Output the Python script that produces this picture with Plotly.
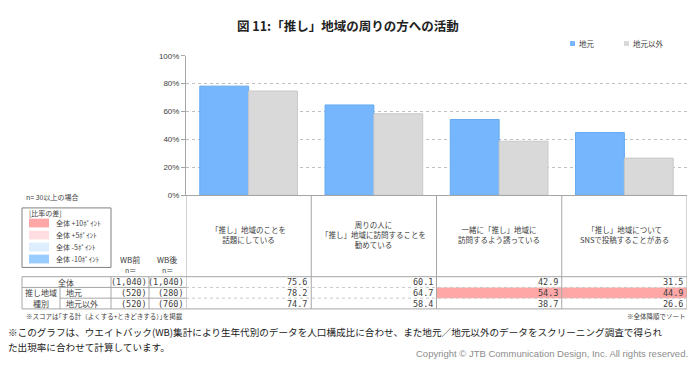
import plotly.graph_objects as go

W, H = 700, 370

# ---------------- data ----------------
categories = [
    "「推し」地域のことを<br>話題にしている",
    "周りの人に<br>「推し」地域に訪問することを<br>勧めている",
    "一緒に「推し」地域に<br>訪問するよう誘っている",
    "「推し」地域について<br>SNSで投稿することがある",
]
series_names = ["地元", "地元以外"]
zentai = [75.6, 60.1, 42.9, 31.5]
jimoto = [78.2, 64.7, 54.3, 44.9]
jimoto_igai = [74.7, 58.4, 38.7, 26.6]
row_labels = ["全体", "地元", "地元以外"]
n_before = ["(1,040)", "(520)", "(520)"]
n_after = ["(1,040)", "(280)", "(760)"]
diff_labels = ["全体 +10ﾎﾟｲﾝﾄ", "全体 +5ﾎﾟｲﾝﾄ", "全体 -5ﾎﾟｲﾝﾄ", "全体 -10ﾎﾟｲﾝﾄ"]
ytick_vals = [0, 20, 40, 60, 80, 100]
ytick_text = ["0%", "20%", "40%", "60%", "80%", "100%"]

# ---------------- styles ----------------
JP = "Noto Sans CJK JP"
TXT = "#404040"
BLUE = "#75B6FC"
GRAY = "#D9D9D9"
LINE = "#A6A6A6"
diff_colors = ["#FFA7A7", "#FFDDE0", "#DDEEFF", "#99CCFF"]
series_colors = [BLUE, GRAY]


def px(x):
    return x / W


def py(y):
    return 1 - y / H


X0, X1 = 186, 687      # plot area left/right px
Y0, Y100 = 196, 53     # 0% and 100% px

fig = go.Figure()
idx = list(range(len(categories)))
fig.add_trace(go.Bar(x=idx, y=jimoto, name=series_names[0], showlegend=False,
                     marker=dict(color=BLUE, line=dict(color="#66AAF0", width=1))))
fig.add_trace(go.Bar(x=idx, y=jimoto_igai, name=series_names[1], showlegend=False,
                     marker=dict(color=GRAY, line=dict(color="#C8C8C8", width=1))))

shapes = []
ann = []

HEAD_BOT = 279.5
ROWS = [279.5, 290.5, 301.5, 312.5]


def vline_x(xv, ya, yb, color=LINE, dash="solid", width=1):
    shapes.append(dict(type="line", xref="x", yref="paper", x0=xv, x1=xv, y0=py(ya), y1=py(yb),
                       line=dict(color=color, width=width, dash=dash)))


def hline_p(xa, xb, y, color=LINE, dash="solid", width=1):
    shapes.append(dict(type="line", xref="paper", yref="paper", x0=px(xa), x1=px(xb), y0=py(y), y1=py(y),
                       line=dict(color=color, width=width, dash=dash)))


def vline_p(x, ya, yb, color=LINE, width=1):
    shapes.append(dict(type="line", xref="paper", yref="paper", x0=px(x), x1=px(x), y0=py(ya), y1=py(yb),
                       line=dict(color=color, width=width)))


def text(x, y, s, size=8, xanchor="center", color=TXT, family=JP, xref="paper", bold=False):
    ann.append(dict(x=(x if xref == "x" else px(x)), y=py(y), xref=xref, yref="paper",
                    text=(f"<b>{s}</b>" if bold else s),
                    showarrow=False, xanchor=xanchor, yanchor="middle",
                    font=dict(size=size, color=color, family=family)))


# highlight cells (difference vs 全体)
rows_vals = [zentai, jimoto, jimoto_igai]
for r in (1, 2):
    for c in idx:
        d = rows_vals[r][c] - zentai[c]
        col = None
        if d >= 10:
            col = diff_colors[0]
        elif d >= 5:
            col = diff_colors[1]
        elif d <= -10:
            col = diff_colors[3]
        elif d <= -5:
            col = diff_colors[2]
        if col:
            shapes.append(dict(type="rect", xref="x", yref="paper", x0=c - 0.5, x1=c + 0.5,
                               y0=py(ROWS[r + 1]), y1=py(ROWS[r]), fillcolor=col, line=dict(width=0),
                               layer="below"))

for k in range(len(categories) + 1):
    vline_x(k - 0.5, Y0, ROWS[-1])
hline_p(22, X1, HEAD_BOT)
hline_p(60, X0, ROWS[2])
hline_p(X0, X1, ROWS[1], color="#C8C8C8", dash="dot")
hline_p(X0, X1, ROWS[2], color="#C8C8C8", dash="dot")
hline_p(22, X0, ROWS[1])
hline_p(22, X1, ROWS[3])
vline_p(22, ROWS[0], ROWS[3])
vline_p(60, ROWS[1], ROWS[3])
vline_p(111, ROWS[0], ROWS[3])
vline_p(149, ROWS[0], ROWS[3])

for c, lab in enumerate(categories):
    text(c, 236, lab, size=7.5, xref="x")

for r in range(3):
    ym = (ROWS[r] + ROWS[r + 1]) / 2
    for c in idx:
        ann.append(dict(x=c + 0.5, y=py(ym), xref="x", yref="paper", text=f"{rows_vals[r][c]:.1f}",
                        showarrow=False, xanchor="right", xshift=-2, yanchor="middle",
                        font=dict(size=8.5, color=TXT, family="DejaVu Sans Mono")))

text(66, (ROWS[0] + ROWS[1]) / 2, row_labels[0], size=8)
text(41, (ROWS[1] + ROWS[2]) / 2, "推し地域", size=8)
text(41, (ROWS[2] + ROWS[3]) / 2, "種別", size=8)
text(64, (ROWS[1] + ROWS[2]) / 2, row_labels[1], size=8, xanchor="left")
text(64, (ROWS[2] + ROWS[3]) / 2, row_labels[2], size=8, xanchor="left")
for r in range(3):
    ym = (ROWS[r] + ROWS[r + 1]) / 2
    text(149, ym, n_before[r], size=8.5, xanchor="right", family="DejaVu Sans Mono")
    text(186, ym, n_after[r], size=8.5, xanchor="right", family="DejaVu Sans Mono")
text(130, 262, "WB前", size=8)
text(167, 262, "WB後", size=8)
text(130, 272.5, "n＝", size=7)
text(167, 272.5, "n＝", size=7)

# diff legend box
text(24, 198, "n= 30以上の場合", size=7, xanchor="left")
shapes.append(dict(type="rect", xref="paper", yref="paper", x0=px(22), x1=px(111), y0=py(270), y1=py(209),
                   line=dict(color="#808080", width=1), fillcolor="rgba(0,0,0,0)"))
text(27, 214.5, "[比率の差]", size=7, xanchor="left")
for i, (lab, col) in enumerate(zip(diff_labels, diff_colors)):
    yc = 224.5 + i * 12.3
    shapes.append(dict(type="rect", xref="paper", yref="paper", x0=px(29), x1=px(49), y0=py(yc + 4.5),
                       y1=py(yc - 4.5), fillcolor=col, line=dict(width=0)))
    text(54, yc, lab, size=7, xanchor="left")

# series legend (top right)
leg_x = [570, 624]
for name, col, lx in zip(series_names, series_colors, leg_x):
    shapes.append(dict(type="rect", xref="paper", yref="paper", x0=px(lx), x1=px(lx + 5), y0=py(43),
                       y1=py(38), fillcolor=col, line=dict(width=0)))
    text(lx + 7, 40.5, name, size=7.5, xanchor="left")

# title and notes
text(348, 22, "図 11:「推し」地域の周りの方への活動", size=12.5, bold=True, color="#222222")
text(24, 320, "※スコアは｢する計（よくする+ときどきする）｣を掲載", size=6.5, xanchor="left")
text(688, 320, "※全体降順でソート", size=6.5, xanchor="right")
text(6, 336, "※このグラフは、ウエイトバック(WB)集計により生年代別のデータを人口構成比に合わせ、また地元／地元以外のデータをスクリーニング調査で得られ",
     size=9.6, xanchor="left", color="#222222")
text(6, 352, "た出現率に合わせて計算しています。", size=9.6, xanchor="left", color="#222222")
text(690, 358, "Copyright © JTB Communication Design, Inc. All rights reserved.", size=9.5, xanchor="right",
     color="#8C8C8C", family="Liberation Sans Narrow, Liberation Sans, Arial")

fig.update_layout(
    width=W, height=H,
    margin=dict(l=0, r=0, t=0, b=0),
    paper_bgcolor="white", plot_bgcolor="white",
    barmode="group", bargap=0.22, bargroupgap=0,
    font=dict(family=JP, color=TXT, size=8),
    showlegend=False,
    xaxis=dict(domain=[px(X0), px(X1)], range=[-0.5, len(categories) - 0.5], showticklabels=False,
               showline=True, linecolor=LINE, linewidth=1, showgrid=False, zeroline=False, fixedrange=True),
    yaxis=dict(domain=[py(Y0), py(Y100)], range=[0, 100], tickmode="array", tickvals=ytick_vals,
               ticktext=ytick_text,
               showline=True, linecolor=LINE, linewidth=1, ticks="outside", ticklen=4, tickcolor=LINE,
               showgrid=True, gridcolor="#BFBFBF", griddash="dot", gridwidth=1, zeroline=False,
               tickfont=dict(size=8, color=TXT, family="Liberation Sans, Arial")),
    shapes=shapes,
    annotations=ann,
)

fig.write_html("out.html", config={"displayModeBar": False},
               post_script="document.body.style.margin='0';")
